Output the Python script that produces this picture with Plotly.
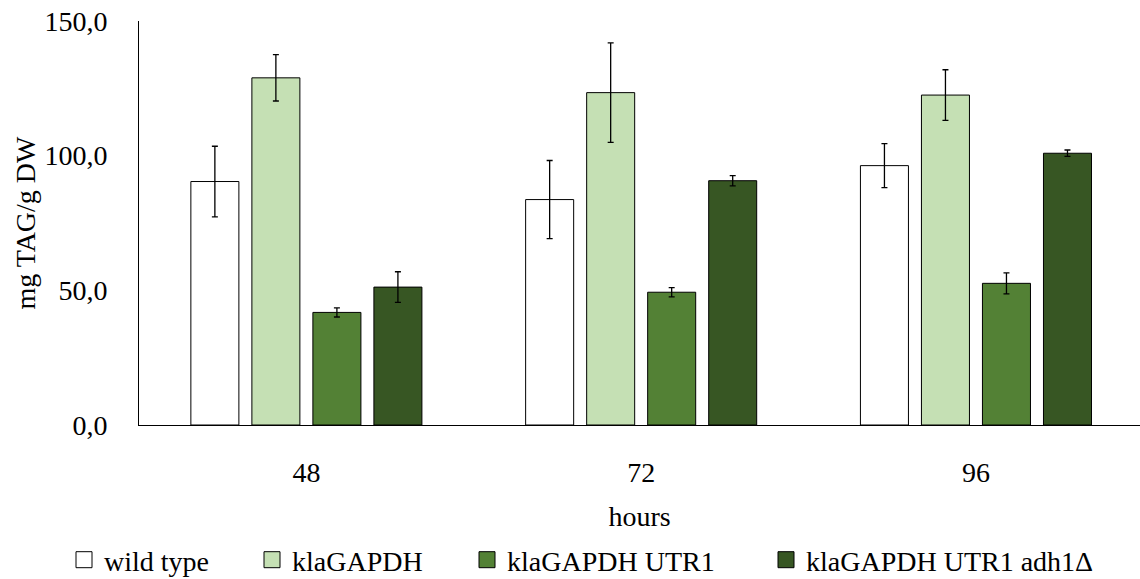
import plotly.graph_objects as go

# TAG content per strain at each sampling time
hours = ["48", "72", "96"]
strains = ["wild type", "klaGAPDH", "klaGAPDH UTR1", "klaGAPDH UTR1 adh1Δ"]
tag_wild_type = [90.4, 83.7, 96.3]
tag_klagapdh = [128.9, 123.4, 122.5]
tag_utr1 = [41.8, 49.3, 52.6]
tag_utr1_adh1 = [51.2, 90.7, 100.9]
sd_wild_type = [13.1, 14.5, 8.2]
sd_klagapdh = [8.6, 18.5, 9.4]
sd_utr1 = [1.7, 1.7, 3.9]
sd_utr1_adh1 = [5.7, 1.9, 1.2]

values = [tag_wild_type, tag_klagapdh, tag_utr1, tag_utr1_adh1]
errors = [sd_wild_type, sd_klagapdh, sd_utr1, sd_utr1_adh1]
fills = ["#FFFFFF", "#C5E0B4", "#538135", "#375623"]

FONT = "Liberation Serif"
FS = 28
W, H = 1140, 579
ML, MR, MT, MB = 139, 0, 21, 154
plot_w = W - ML - MR
plot_h = H - MT - MB

# legend entries laid out along one row under the axis title
legend_square_px = [84, 272, 487, 786]
legend_row_px = 560

fig = go.Figure()
for i, (name, vals, errs, col) in enumerate(zip(strains, values, errors, fills)):
    fig.add_trace(go.Bar(
        name=name, x=hours, y=vals,
        marker=dict(color=col, line=dict(color="#000000", width=1)),
        error_y=dict(type="data", array=errs, visible=True,
                     color="#000000", thickness=1.3, width=3),
        showlegend=False,
    ))

# square swatches for the legend (larger than the default bar icon)
for i, (name, col) in enumerate(zip(strains, fills)):
    lg = "legend" if i == 0 else f"legend{i + 1}"
    fig.add_trace(go.Scatter(
        name=name, x=[None], y=[None], mode="markers",
        marker=dict(symbol="square", size=16, color=col,
                    line=dict(color="#000000", width=1)),
        legend=lg, showlegend=True, hoverinfo="skip",
    ))

layout_legends = {}
for i, px in enumerate(legend_square_px):
    key = "legend" if i == 0 else f"legend{i + 1}"
    layout_legends[key] = dict(
        x=(px - 20 - ML) / plot_w,
        y=(MT + plot_h - legend_row_px) / plot_h,
        xanchor="left", yanchor="middle",
        orientation="h", bgcolor="rgba(0,0,0,0)",
        font=dict(family=FONT, size=FS, color="#000000"),
        borderwidth=0, itemsizing="trace",
    )

fig.update_layout(
    width=W, height=H,
    margin=dict(l=ML, r=MR, t=MT, b=MB, autoexpand=False),
    paper_bgcolor="#FFFFFF", plot_bgcolor="#FFFFFF",
    barmode="group", bargap=0.271, bargroupgap=0.213,
    separators=", ",
    font=dict(family=FONT, size=FS, color="#000000"),
    showlegend=True,
    **layout_legends,
)

fig.update_xaxes(
    type="category", range=[-0.5, 2.49],
    showline=True, linecolor="#000000", linewidth=1,
    showgrid=False, ticks="", ticklabelstandoff=22,
    tickfont=dict(family=FONT, size=FS, color="#000000"),
    title=dict(text="hours", standoff=19,
               font=dict(family=FONT, size=FS, color="#000000")),
)
fig.update_yaxes(
    range=[0, 150], tickvals=[0, 50, 100, 150], tickformat=".1f",
    showline=True, linecolor="#000000", linewidth=1,
    showgrid=False, zeroline=False, ticks="", ticklabelstandoff=25,
    tickfont=dict(family=FONT, size=FS, color="#000000"),
    title=dict(text="mg TAG/g DW", standoff=0,
               font=dict(family=FONT, size=FS, color="#000000")),
)

fig.write_html("out.html")
